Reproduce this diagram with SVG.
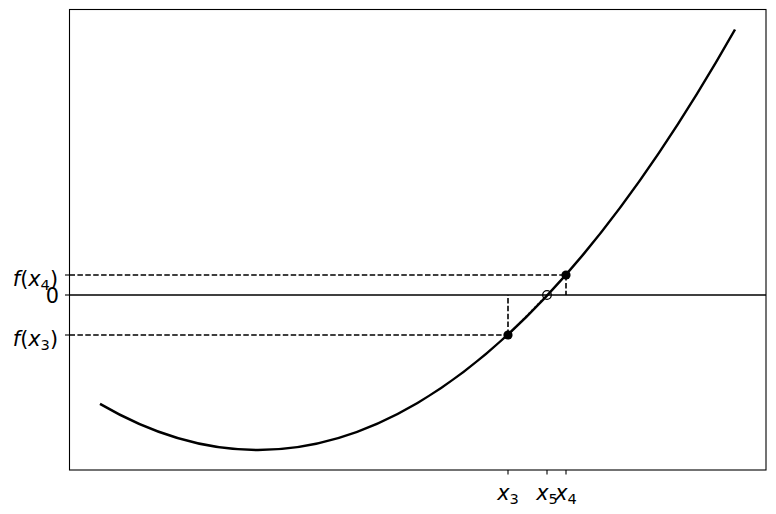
<svg xmlns="http://www.w3.org/2000/svg" width="776" height="514" viewBox="0 0 776 514">
<style>
.lbl{font-family:"DejaVu Sans",sans-serif;font-size:20.8px;fill:#000}
.it{font-style:italic}
.sub{font-size:14.6px}
.dash{stroke:#000;stroke-width:1.6;stroke-dasharray:5.5,2.4;fill:none}
.tick{stroke:#000;stroke-width:1.1}
</style>
<rect width="776" height="514" fill="#fff"/>
<g id="connectors">
<line class="dash" x1="69.5" y1="275" x2="566" y2="275"/>
<line class="dash" x1="69.5" y1="335" x2="508" y2="335"/>
<line class="dash" x1="508" y1="335" x2="508" y2="295"/>
<line class="dash" x1="566" y1="275" x2="566" y2="295"/>
<line x1="508" y1="335" x2="547" y2="295" stroke="#000" stroke-width="1.6" stroke-dasharray="1.6,2.6"/>
<line x1="69.5" y1="295" x2="766" y2="295" stroke="#000" stroke-width="1.6"/>
</g>
<g id="curve">
<path d="M100,403.9 Q417.5,589.3 735,29.5" fill="none" stroke="#000" stroke-width="2.5"/>
</g>
<g id="points">
<circle cx="508" cy="335" r="4.6" fill="#000"/>
<circle cx="566" cy="275" r="4.6" fill="#000"/>
<circle cx="547" cy="295" r="4.3" fill="none" stroke="#000" stroke-width="1.3"/>
</g>
<g id="frame">
<rect x="69.5" y="9.5" width="696.5" height="460.5" fill="none" stroke="#000" stroke-width="1.1"/>
<line class="tick" x1="65" y1="275" x2="69.5" y2="275"/>
<line class="tick" x1="65" y1="295" x2="69.5" y2="295"/>
<line class="tick" x1="65" y1="335" x2="69.5" y2="335"/>
<line class="tick" x1="508" y1="470" x2="508" y2="474.5"/>
<line class="tick" x1="547" y1="470" x2="547" y2="474.5"/>
<line class="tick" x1="566" y1="470" x2="566" y2="474.5"/>
</g>
<g id="ylabels">
<text class="lbl" x="58" y="285.5" text-anchor="end"><tspan class="it">f</tspan>(<tspan class="it">x</tspan><tspan class="sub" dy="4">4</tspan><tspan dy="-4">)</tspan></text>
<text class="lbl" x="59" y="303" text-anchor="end">0</text>
<text class="lbl" x="58" y="345.5" text-anchor="end"><tspan class="it">f</tspan>(<tspan class="it">x</tspan><tspan class="sub" dy="4">3</tspan><tspan dy="-4">)</tspan></text>
</g>
<g id="xlabels">
<text class="lbl" x="508" y="500" text-anchor="middle"><tspan class="it">x</tspan><tspan class="sub" dy="3.5">3</tspan></text>
<text class="lbl" x="547" y="500" text-anchor="middle"><tspan class="it">x</tspan><tspan class="sub" dy="3.5">5</tspan></text>
<text class="lbl" x="566" y="500" text-anchor="middle"><tspan class="it">x</tspan><tspan class="sub" dy="3.5">4</tspan></text>
</g>
</svg>
